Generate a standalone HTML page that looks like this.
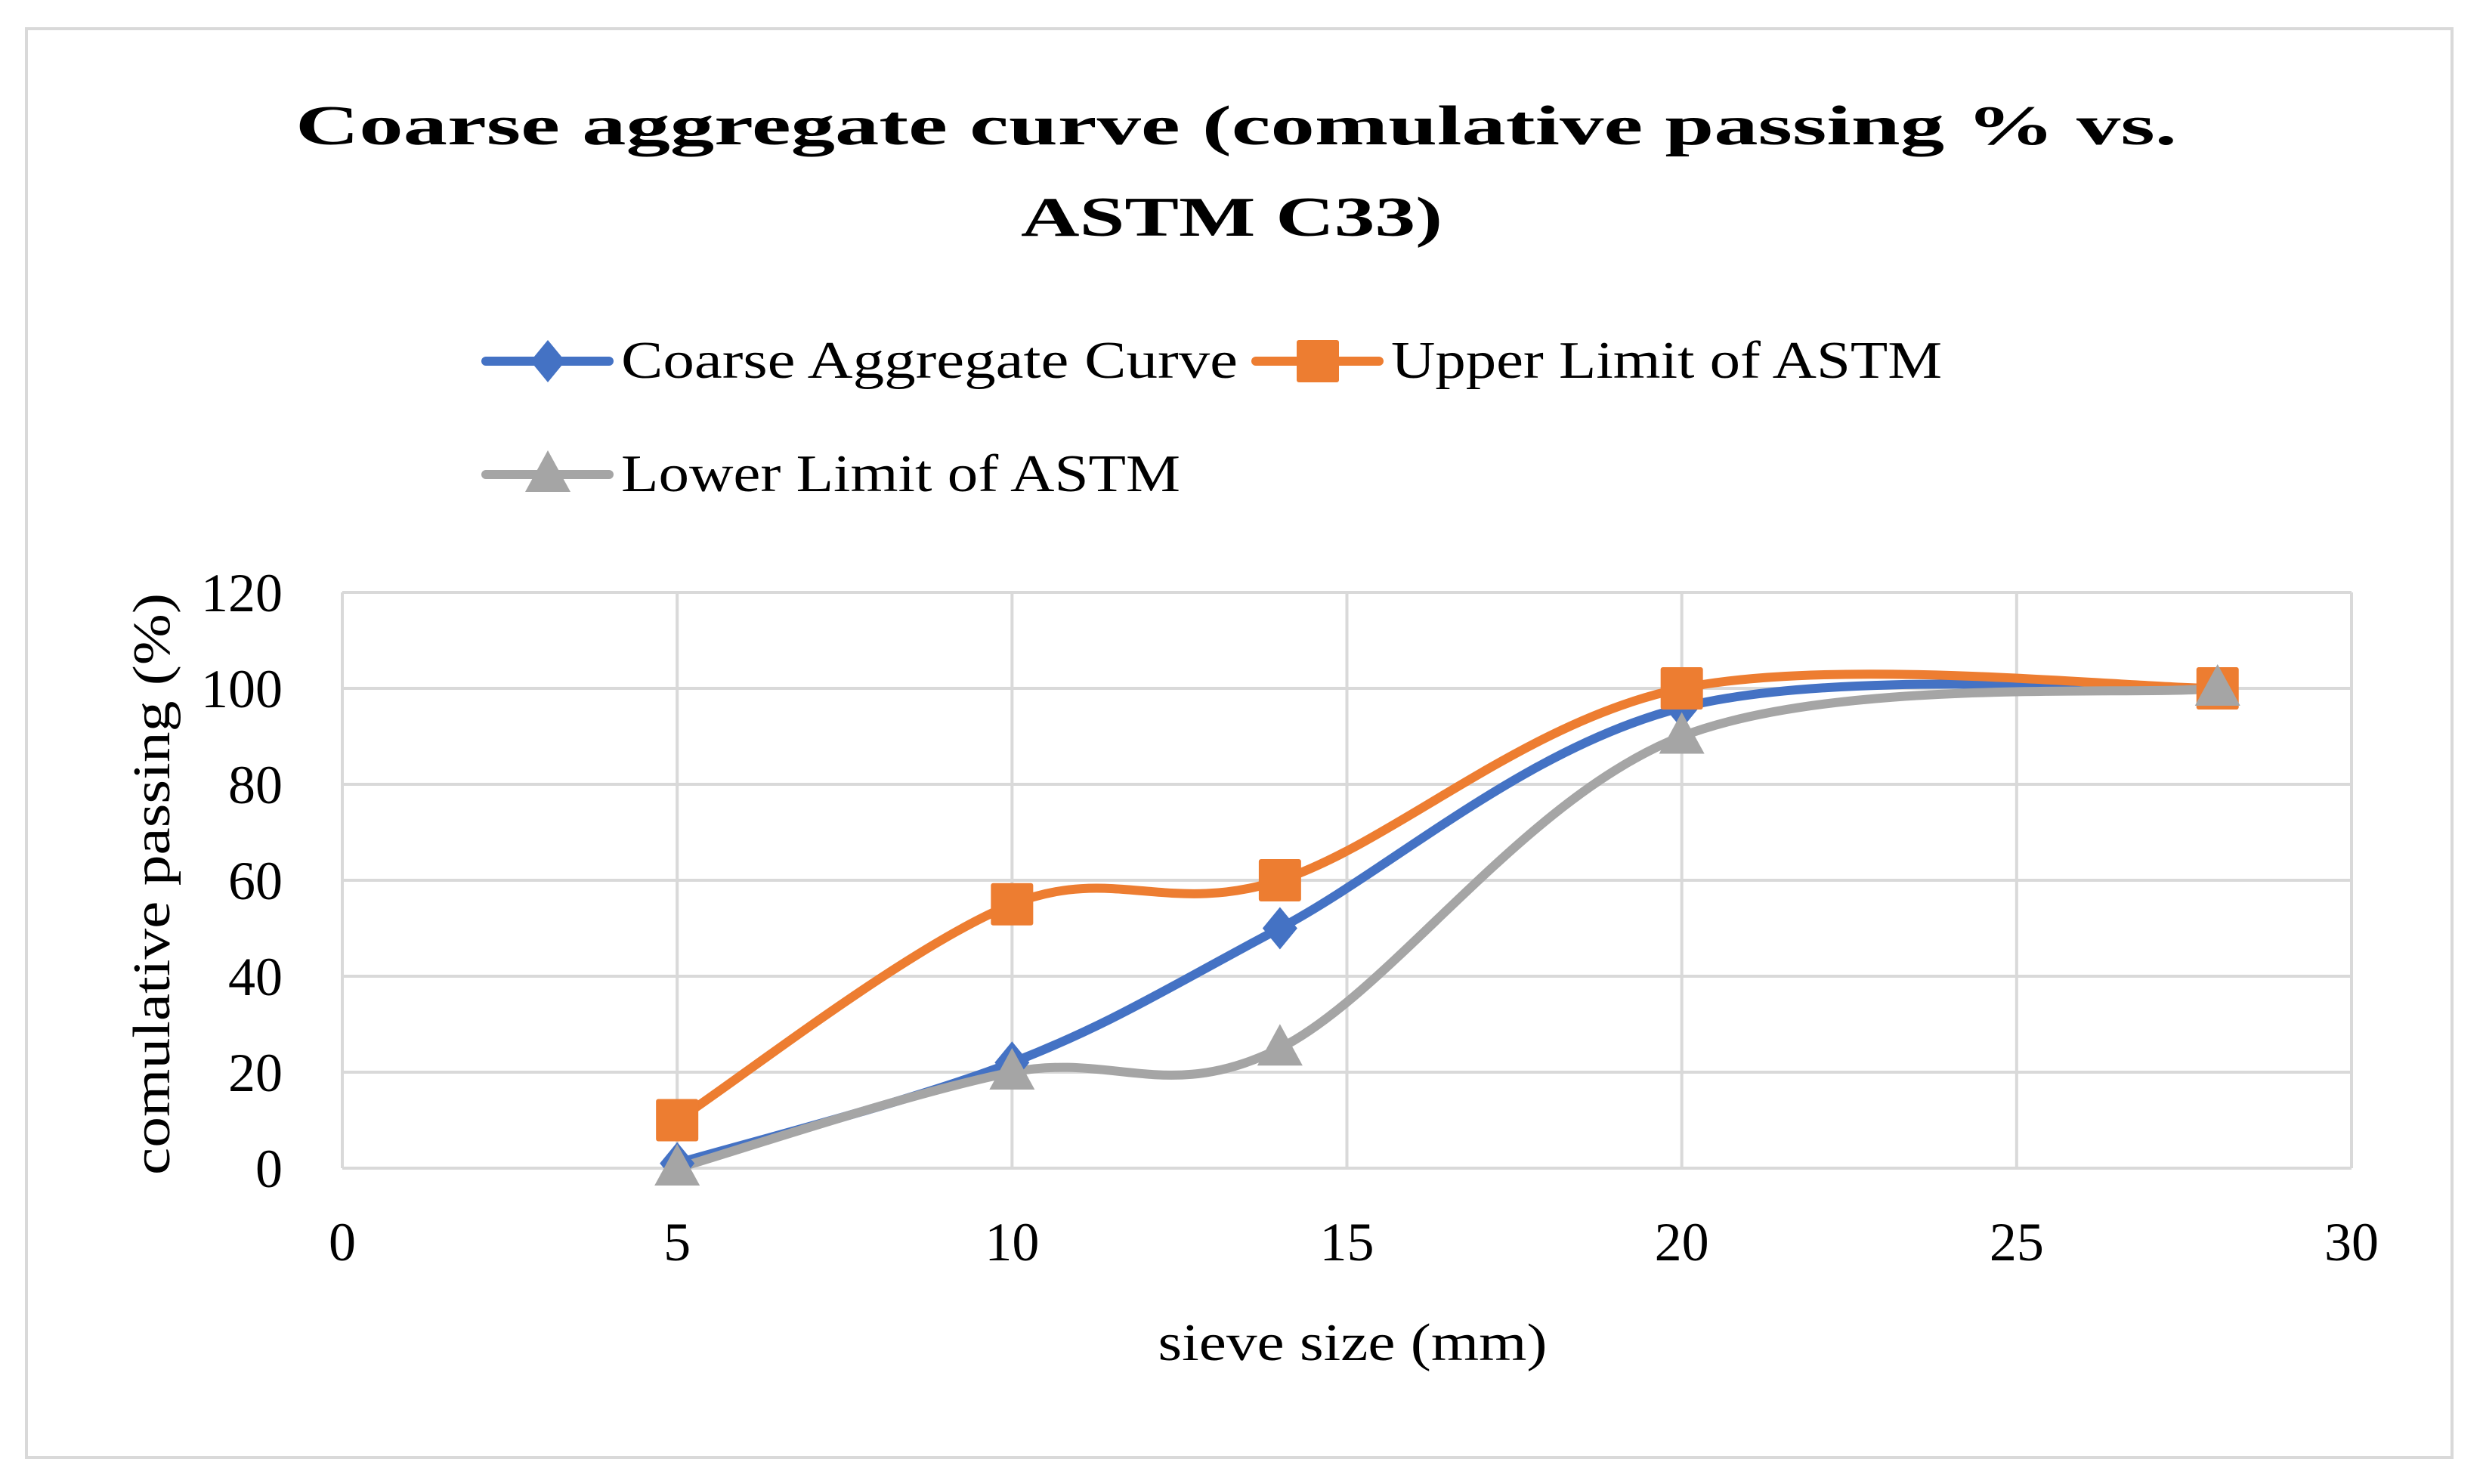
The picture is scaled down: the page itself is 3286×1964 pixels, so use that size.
<!DOCTYPE html>
<html><head><meta charset="utf-8"><style>
html,body{margin:0;padding:0;background:#fff;}
svg{display:block;font-family:"Liberation Serif",serif;}
</style></head><body>
<svg id="chart" width="3286" height="1964" viewBox="0 0 3286 1964" xmlns="http://www.w3.org/2000/svg">
<rect x="35" y="38" width="3210" height="1891" fill="#fff" stroke="#d9d9d9" stroke-width="4"/>
<text x="1636" y="191" text-anchor="middle" font-weight="bold" font-size="74" textLength="2490" lengthAdjust="spacingAndGlyphs">Coarse aggregate curve (comulative passing % vs.</text>
<text x="1630" y="312" text-anchor="middle" font-weight="bold" font-size="74" textLength="558" lengthAdjust="spacingAndGlyphs">ASTM C33)</text>
<g id="grid"></g>
<g id="series"></g>
<g id="legend"></g>
<text x="1790" y="1800" text-anchor="middle" font-size="70" textLength="515" lengthAdjust="spacingAndGlyphs">sieve size (mm)</text>
<text transform="translate(224,1170) rotate(-90)" text-anchor="middle" font-size="70" textLength="770" lengthAdjust="spacingAndGlyphs">comulative passing (%)</text>
</svg>
<script>
const xTicks = [0, 5, 10, 15, 20, 25, 30];
const yTicks = [0, 20, 40, 60, 80, 100, 120];
const sieveSizes = [5, 10, 14, 20, 28];
const coarseValues = [1, 22, 50, 96, 100];
const upperValues = [10, 55, 60, 100, 100];
const lowerValues = [0, 20, 25, 90, 100];
const seriesNames = ["Coarse Aggregate Curve", "Upper Limit of ASTM", "Lower Limit of ASTM"];

const NS = "http://www.w3.org/2000/svg";
const X0 = 453, X1 = 3112, Y0 = 1546, Y1 = 784;
function sx(v){ return X0 + (v - 0) / 30 * (X1 - X0); }
function sy(v){ return Y0 - (v - 0) / 120 * (Y0 - Y1); }
function mk(tag, attrs, parent){
  const e = document.createElementNS(NS, tag);
  for (const k in attrs) e.setAttribute(k, attrs[k]);
  parent.appendChild(e); return e;
}
const grid = document.getElementById('grid');
yTicks.forEach(t => {
  const l = mk('line', {x1: X0, x2: X1, y1: sy(t), y2: sy(t), stroke: '#d9d9d9', 'stroke-width': 4}, grid);
  
  
  const tx = mk('text', {x: 374, y: sy(t) + 25, 'text-anchor': 'end', 'font-size': 72}, grid);
  tx.textContent = t;
  
  
});
xTicks.forEach(t => {
  const l = mk('line', {x1: sx(t), x2: sx(t), y1: Y1, y2: Y0, stroke: '#d9d9d9', 'stroke-width': 4}, grid);
  
  
  const tx = mk('text', {x: sx(t), y: 1668, 'text-anchor': 'middle', 'font-size': 72}, grid);
  tx.textContent = t;
  
  
});

function smoothPath(xs, ys){
  const p = xs.map((x, i) => [sx(x), sy(ys[i])]);
  let d = 'M' + p[0][0] + ',' + p[0][1];
  for (let i = 0; i < p.length - 1; i++){
    const p0 = p[Math.max(0, i - 1)], p1 = p[i], p2 = p[i + 1], p3 = p[Math.min(p.length - 1, i + 2)];
    const c1 = [p1[0] + (p2[0] - p0[0]) / 6, p1[1] + (p2[1] - p0[1]) / 6];
    const c2 = [p2[0] - (p3[0] - p1[0]) / 6, p2[1] - (p3[1] - p1[1]) / 6];
    d += ' C' + c1.join(',') + ' ' + c2.join(',') + ' ' + p2.join(',');
  }
  return d;
}
function marker(type, x, y, color, parent){
  let e;
  if (type === 'diamond') e = mk('polygon', {points: `${x},${y-28} ${x+23},${y} ${x},${y+28} ${x-23},${y}`, fill: color}, parent);
  else if (type === 'square') e = mk('rect', {x: x-28, y: y-28, width: 56, height: 56, rx: 3, fill: color}, parent);
  else e = mk('polygon', {points: `${x},${y-32} ${x+30},${y+23} ${x-30},${y+23}`, fill: color}, parent);
  return e;
}
const seriesDefs = [
  {vals: coarseValues, color: '#4472c4', m: 'diamond', name: 'coarse-aggregate'},
  {vals: upperValues, color: '#ed7d31', m: 'square', name: 'upper-limit'},
  {vals: lowerValues, color: '#a5a5a5', m: 'triangle', name: 'lower-limit'}
];
const sg = document.getElementById('series');
seriesDefs.forEach(s => {
  const path = mk('path', {d: smoothPath(sieveSizes, s.vals), fill: 'none', stroke: s.color, 'stroke-width': 12, 'stroke-linecap': 'round'}, sg);
  
  
});
seriesDefs.forEach(s => {
  sieveSizes.forEach((x, i) => {
    const m = marker(s.m, sx(x), sy(s.vals[i]), s.color, sg);
    
    
  });
});
const lg = document.getElementById('legend');
const legPos = [[638, 478, 816], [1657, 478, 729], [638, 628, 740]];
seriesDefs.forEach((s, i) => {
  const [lx, ly, tw] = legPos[i];
  const g = mk('g', {}, lg);
  
  
  mk('line', {x1: lx + 5, x2: lx + 168, y1: ly, y2: ly, stroke: s.color, 'stroke-width': 12, 'stroke-linecap': 'round'}, g);
  marker(s.m, lx + 87, ly, s.color, g);
  const t = mk('text', {x: lx + 184, y: ly + 22, 'font-size': 70, textLength: tw, lengthAdjust: 'spacingAndGlyphs'}, g);
  t.textContent = seriesNames[i];
});
</script>
</body></html>
